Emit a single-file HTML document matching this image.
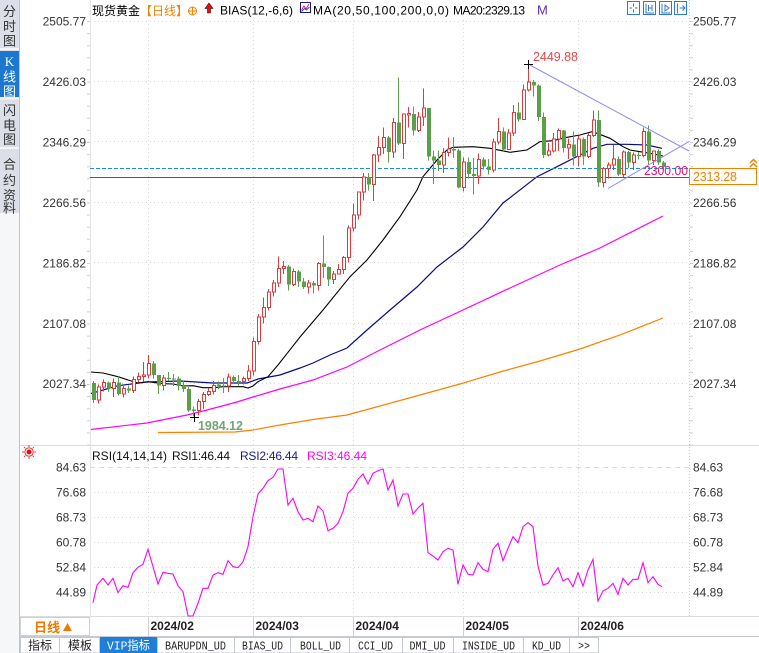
<!DOCTYPE html>
<html><head><meta charset="utf-8"><style>
html,body{margin:0;padding:0;background:#fff;}
svg{display:block;}
</style></head><body>
<svg width="759" height="653" viewBox="0 0 759 653" xmlns="http://www.w3.org/2000/svg" font-family="'Liberation Sans','Noto Sans CJK SC',sans-serif">
<defs>
<clipPath id="cm"><rect x="90" y="0" width="599" height="445"/></clipPath>
<clipPath id="cr"><rect x="90" y="446" width="599" height="171"/></clipPath>
</defs>
<rect width="759" height="653" fill="#fff"/>

<!-- sidebar -->
<rect x="0" y="0" width="19" height="213" fill="#dcdfe7"/>
<rect x="0" y="51" width="19" height="46" fill="#1c78cf"/>
<line x1="0" y1="49" x2="19" y2="49" stroke="#f4f5f8" stroke-width="2"/>
<line x1="0" y1="98.5" x2="19" y2="98.5" stroke="#f4f5f8" stroke-width="2"/>
<line x1="0" y1="148" x2="19" y2="148" stroke="#f4f5f8" stroke-width="2"/>
<rect x="0" y="213" width="19" height="440" fill="#f6f7f9"/>
<g font-size="13" text-anchor="middle" fill="#333" font-family="'Noto Sans CJK SC','WenQuanYi Zen Hei',sans-serif">
<text x="9.5" y="16">分</text><text x="9.5" y="31">时</text><text x="9.5" y="45.5">图</text>
<text x="9.5" y="66" fill="#fff" font-family="'Liberation Serif',serif">K</text><text x="9.5" y="81.5" fill="#fff">线</text><text x="9.5" y="96" fill="#fff">图</text>
<text x="9.5" y="115">闪</text><text x="9.5" y="130">电</text><text x="9.5" y="144">图</text>
<text x="9.5" y="169">合</text><text x="9.5" y="185">约</text><text x="9.5" y="200">资</text><text x="9.5" y="212.5">料</text>
</g>
<line x1="19.5" y1="0" x2="19.5" y2="653" stroke="#bfc3cc"/>

<!-- grid main -->
<g stroke="#d9d9d9" stroke-dasharray="1 3">
<line x1="90" y1="21.5" x2="689" y2="21.5"/><line x1="90" y1="81.5" x2="689" y2="81.5"/>
<line x1="90" y1="141.5" x2="689" y2="141.5"/><line x1="90" y1="202.5" x2="689" y2="202.5"/>
<line x1="90" y1="262.5" x2="689" y2="262.5"/><line x1="90" y1="323.5" x2="689" y2="323.5"/>
<line x1="90" y1="383.5" x2="689" y2="383.5"/>
<line x1="148.5" y1="20" x2="148.5" y2="445"/><line x1="253.5" y1="20" x2="253.5" y2="445"/>
<line x1="353.5" y1="20" x2="353.5" y2="445"/><line x1="463.5" y1="20" x2="463.5" y2="445"/>
<line x1="578.5" y1="20" x2="578.5" y2="445"/>
<line x1="148.5" y1="448" x2="148.5" y2="617"/><line x1="253.5" y1="448" x2="253.5" y2="617"/>
<line x1="353.5" y1="448" x2="353.5" y2="617"/><line x1="463.5" y1="448" x2="463.5" y2="617"/>
<line x1="578.5" y1="448" x2="578.5" y2="617"/>
<line x1="90" y1="492.5" x2="689" y2="492.5"/><line x1="90" y1="517.5" x2="689" y2="517.5"/>
<line x1="90" y1="542.5" x2="689" y2="542.5"/><line x1="90" y1="567.5" x2="689" y2="567.5"/>
<line x1="90" y1="592.5" x2="689" y2="592.5"/>
</g>
<line x1="90" y1="467.5" x2="689" y2="467.5" stroke="#dcdcdc" stroke-dasharray="5 4"/>

<!-- axes lines -->
<line x1="90.5" y1="0" x2="90.5" y2="617" stroke="#e2e4e8"/>
<line x1="88.5" y1="21" x2="88.5" y2="445" stroke="#d0d0d0" stroke-width="3" stroke-dasharray="1 11.1"/>
<line x1="689.5" y1="0" x2="689.5" y2="617" stroke="#cfcfcf" stroke-dasharray="1 2"/>
<line x1="691.5" y1="21" x2="691.5" y2="445" stroke="#d0d0d0" stroke-width="3" stroke-dasharray="1 11.1"/>
<line x1="20" y1="445.5" x2="759" y2="445.5" stroke="#dcdcdc"/>
<line x1="20" y1="616.5" x2="759" y2="616.5" stroke="#dcdcdc"/>
<line x1="20" y1="636.5" x2="759" y2="636.5" stroke="#c6cad2"/>

<!-- price axis labels -->
<g font-size="12" fill="#333">
<g text-anchor="end">
<text x="86" y="25.5">2505.77</text><text x="86" y="86">2426.03</text><text x="86" y="146.5">2346.29</text>
<text x="86" y="207">2266.56</text><text x="86" y="267.5">2186.82</text><text x="86" y="328">2107.08</text>
<text x="86" y="388">2027.34</text>
<text x="86" y="471.7">84.63</text><text x="86" y="496.7">76.68</text><text x="86" y="521.7">68.73</text>
<text x="86" y="546.7">60.78</text><text x="86" y="571.7">52.84</text><text x="86" y="596.7">44.89</text>
</g>
<text x="693" y="25.5">2505.77</text><text x="693" y="86">2426.03</text><text x="693" y="146.5">2346.29</text>
<text x="693" y="207">2266.56</text><text x="693" y="267.5">2186.82</text><text x="693" y="328">2107.08</text>
<text x="693" y="388">2027.34</text>
<text x="693" y="471.7">84.63</text><text x="693" y="496.7">76.68</text><text x="693" y="521.7">68.73</text>
<text x="693" y="546.7">60.78</text><text x="693" y="571.7">52.84</text><text x="693" y="596.7">44.89</text>
</g>

<!-- main chart -->
<g clip-path="url(#cm)">
<!-- MA lines -->
<polyline fill="none" stroke="#ff8000" stroke-width="1.2" points="158,432.5 235,432 253,430 280,425 313,419.5 347,415 380,406 420,395 460,384 500,372 540,361 580,349 620,335 663,318"/>
<polyline fill="none" stroke="#ff00ff" stroke-width="1.2" points="91,429.5 147,423 187,415 207,410 237,402 253,397 280,389 313,380 347,367 380,350 420,330 463,310 510,288 560,265 600,248 663,216"/>
<polyline fill="none" stroke="#0a0a8a" stroke-width="1.2" points="91,393.5 103,390 118,385.7 147,382 180,381 213,383 247,383 258,379 280,375 300,368 313,363 330,355 347,348 367,330 390,310 417,287 437,267 463,247 483,227 503,203 507,200 537,176.7 557,166.7 580,155 593,148.3 607,144.3 627,144.3 647,145 662,148.3"/>
<polyline fill="none" stroke="#000" stroke-width="1.1" points="91,372 103,373 118,376.7 128,380 138,383 148,381.7 163,383.7 173,384 183,386 193,385.7 203,387.7 213,387.7 223,386.7 243,386.7 248,388 253,386 258,381.7 268,376.7 278,365 288,352.3 300,337 323,310 350,276.7 367,260 383,240 400,216.7 417,190 423,176.7 437,160 447,150 453,147.3 473,146.7 490,148.3 507,151.7 510,152.3 527,150 540,141.7 553,140.7 567,137.3 580,135 592,131.7 597,133.3 610,138.3 623,146.7 630,150 640,151.7 650,153.3 663,156"/>

<!-- horizontal reference lines -->
<line x1="90" y1="168.5" x2="689" y2="168.5" stroke="#1e88e5" stroke-dasharray="4 2"/>
<line x1="90" y1="177.5" x2="689" y2="177.5" stroke="#d4175e"/>

<!-- candles -->
<g transform="matrix(1 0 0 -0.758 0 1920.37)" shape-rendering="crispEdges">
<path vector-effect="non-scaling-stroke" stroke="#e03a3a" stroke-width="1" fill="none" d="M98.5 2001V2026M103.5 2017V2033M113.5 2010V2034M123.5 2009V2024M133.5 2015V2037M138.5 2029V2042M143.5 2030V2056M148.5 2034V2065M163.5 2018V2039M198.5 1985V2007M203.5 1994V2016M208.5 2011V2021M213.5 2013V2031M228.5 2016V2041M243.5 2026V2037M248.5 2031V2052M253.5 2038V2088M258.5 2079V2119M263.5 2107V2141M268.5 2124V2152M273.5 2142V2164M278.5 2155V2195M283.5 2172V2189M293.5 2156V2179M308.5 2146V2164M318.5 2150V2188M333.5 2159V2176M338.5 2172V2185M343.5 2172V2196M348.5 2187V2236M353.5 2228V2265M358.5 2244V2280M363.5 2269V2305M373.5 2268V2330M378.5 2320V2354M383.5 2330V2365M393.5 2325V2378M403.5 2324V2384M408.5 2365V2392M418.5 2359V2386M423.5 2367V2417M443.5 2305V2338M448.5 2327V2352M463.5 2281V2326M478.5 2291V2331M493.5 2306V2351M498.5 2343V2378M508.5 2336V2363M513.5 2354V2395M523.5 2376V2422M528.5 2413V2449.88M548.5 2327V2345M553.5 2332V2358M558.5 2334V2364M568.5 2324V2351M578.5 2314V2354M588.5 2325V2358M593.5 2353V2388M603.5 2286V2313M608.5 2298V2319M613.5 2309V2342M623.5 2299V2335M633.5 2309V2332M643.5 2326V2365M653.5 2316V2335"/>
<path vector-effect="non-scaling-stroke" stroke="#5b9f4a" stroke-width="1" fill="none" d="M93.5 2002V2031M108.5 2016V2030M118.5 2012V2037M128.5 2015V2025M153.5 2034V2057M158.5 2014V2039M168.5 2031V2043M173.5 2024V2040M178.5 2018V2037M183.5 2016V2031M188.5 1990V2023M193.5 1984.12V1997M218.5 2020V2030M223.5 2015V2035M233.5 2027V2038M238.5 2025V2039M288.5 2150V2184M298.5 2155V2177M303.5 2152V2167M313.5 2146V2163M323.5 2167V2223M328.5 2156V2182M368.5 2282V2305M388.5 2319V2354M398.5 2342V2431M413.5 2355V2393M428.5 2322V2391M433.5 2291V2335M438.5 2308V2335M453.5 2325V2353M458.5 2285V2337M468.5 2298V2326M473.5 2277V2325M483.5 2310V2326M488.5 2303V2324M503.5 2333V2365M518.5 2373V2398M533.5 2406V2428M538.5 2374V2422M543.5 2325V2385M563.5 2332V2362M573.5 2315V2360M583.5 2316V2352M598.5 2287V2388M618.5 2301V2327M628.5 2312V2334M638.5 2323V2333M648.5 2316V2368M658.5 2316V2336M663.5 2309V2321"/>
<path vector-effect="non-scaling-stroke" stroke="#e03a3a" stroke-width="1" fill="#fff" d="M97.5 2006h3V2023h-3zM102.5 2023h3V2029h-3zM112.5 2021h3V2029h-3zM122.5 2014h3V2021h-3zM132.5 2018h3V2033h-3zM137.5 2033h3V2037h-3zM142.5 2037h3V2039h-3zM147.5 2039h3V2054h-3zM162.5 2025h3V2035h-3zM197.5 1992h3V2004h-3zM202.5 2004h3V2013h-3zM207.5 2013h3V2017h-3zM212.5 2017h3V2025h-3zM227.5 2024h3V2036h-3zM242.5 2030h3V2034h-3zM247.5 2034h3V2044h-3zM252.5 2044h3V2083h-3zM257.5 2083h3V2115h-3zM262.5 2115h3V2128h-3zM267.5 2128h3V2148h-3zM272.5 2148h3V2160h-3zM277.5 2160h3V2179h-3zM282.5 2179h3V2182h-3zM292.5 2158h3V2175h-3zM307.5 2155h3V2160h-3zM317.5 2157h3V2186h-3zM332.5 2165h3V2172h-3zM337.5 2172h3V2178h-3zM342.5 2178h3V2194h-3zM347.5 2194h3V2233h-3zM352.5 2233h3V2250h-3zM357.5 2250h3V2280h-3zM362.5 2280h3V2300h-3zM372.5 2290h3V2329h-3zM377.5 2329h3V2339h-3zM382.5 2339h3V2352h-3zM392.5 2333h3V2372h-3zM402.5 2344h3V2383h-3zM407.5 2382h3V2384h-3zM417.5 2361h3V2379h-3zM422.5 2379h3V2391h-3zM442.5 2316h3V2332h-3zM447.5 2332h3V2337h-3zM462.5 2286h3V2320h-3zM477.5 2301h3V2323h-3zM492.5 2309h3V2346h-3zM497.5 2346h3V2360h-3zM507.5 2336h3V2358h-3zM512.5 2358h3V2385h-3zM522.5 2376h3V2415h-3zM527.5 2415h3V2425h-3zM547.5 2329h3V2334h-3zM552.5 2334h3V2350h-3zM557.5 2350h3V2361h-3zM567.5 2338h3V2343h-3zM577.5 2327h3V2350h-3zM587.5 2327h3V2355h-3zM592.5 2355h3V2375h-3zM602.5 2293h3V2311h-3zM607.5 2311h3V2316h-3zM612.5 2316h3V2324h-3zM622.5 2303h3V2333h-3zM632.5 2319h3V2329h-3zM642.5 2328h3V2360h-3zM652.5 2322h3V2334h-3z"/>
<path fill="#5b9f4a" d="M92 2028h4V2006h-4zM107 2029h4V2021h-4zM117 2029h4V2014h-4zM127 2021h4V2018h-4zM152 2054h4V2039h-4zM157 2039h4V2025h-4zM167 2035h4V2033.7h-4zM172 2034h4V2032.7h-4zM177 2034h4V2024h-4zM182 2024h4V2020h-4zM187 2020h4V1992h-4zM192 1993h4V1991.5h-4zM217 2026h4V2024.5h-4zM222 2025h4V2023.7h-4zM232 2036h4V2031h-4zM237 2031h4V2029.7h-4zM287 2182h4V2158h-4zM297 2175h4V2162h-4zM302 2162h4V2155h-4zM312 2160h4V2157h-4zM322 2186h4V2181h-4zM327 2181h4V2165h-4zM367 2300h4V2290h-4zM387 2352h4V2333h-4zM397 2372h4V2344h-4zM412 2383h4V2361h-4zM427 2391h4V2327h-4zM432 2327h4V2322h-4zM437 2322h4V2316h-4zM452 2337h4V2335h-4zM457 2335h4V2286h-4zM467 2320h4V2304h-4zM472 2304h4V2301h-4zM482 2323h4V2314h-4zM487 2314h4V2309h-4zM502 2360h4V2336h-4zM517 2385h4V2376h-4zM532 2425h4V2421h-4zM537 2421h4V2379h-4zM542 2379h4V2329h-4zM562 2361h4V2338h-4zM572 2343h4V2327h-4zM582 2350h4V2327h-4zM597 2375h4V2293h-4zM617 2324h4V2303h-4zM627 2333h4V2319h-4zM637 2329h4V2327.7h-4zM647 2360h4V2322h-4zM657 2334h4V2319h-4zM662 2319h4V2313.28h-4z"/>
</g>

<!-- trend lines -->
<line x1="528" y1="64" x2="689" y2="151" stroke="#8c8cf5"/>
<line x1="608" y1="188.5" x2="689" y2="141.5" stroke="#8c8cf5"/>
<!-- markers -->
<path d="M524 64.5h9M528.5 60v9M190 417.5h9M194.5 413v9" stroke="#000" fill="none"/>
<text x="533" y="61" font-size="12.5" fill="#e04848" textLength="45">2449.88</text>
<text x="198" y="430" font-size="12.5" font-weight="bold" fill="#72a47a" textLength="45">1984.12</text>
<text x="644" y="175" font-size="13" fill="#e8107a" textLength="44" lengthAdjust="spacingAndGlyphs">2300.00</text>
</g>

<!-- current price tag -->
<rect x="689.5" y="168.5" width="67" height="16" fill="#fff" stroke="#f08000"/>
<text x="693" y="181" font-size="12.5" fill="#f08000" textLength="44">2313.28</text>
<path d="M750 163l3.5-3.5 3.5 3.5M750 167l3.5-3.5 3.5 3.5" stroke="#f08000" stroke-width="1.5" fill="none"/>

<!-- header -->
<g font-size="12" fill="#000">
<text x="92" y="15" font-family="'Noto Sans CJK SC',sans-serif">现货黄金</text>
<text x="140" y="15" fill="#f08300" font-family="'Noto Sans CJK SC',sans-serif">【日线】</text>
<text x="220" y="14.5" textLength="73">BIAS(12,-6,6)</text>
<text x="313" y="14.5" textLength="136">MA(20,50,100,200,0,0)</text>
<text x="453" y="14.5" textLength="72">MA20:2329.13</text>
<text x="537" y="14.5" fill="#6030b0" font-size="13">M</text>
</g>
<circle cx="192.5" cy="11" r="4" fill="none" stroke="#f08300"/>
<path d="M188.5 11h8M192.5 7v8" stroke="#f08300"/>
<path d="M205 8.5l4-5.5 4 5.5h-2.5v4.5h-3v-4.5z" fill="#e01010" stroke="#400" stroke-width="0.6"/>
<rect x="300.5" y="2.5" width="10" height="10" fill="#fff" stroke="#1a1a8c"/>
<path d="M301.5 10l2.5-4 2 3 3-5" stroke="#e02020" fill="none" stroke-width="0.9"/>
<path d="M301.5 11.5l3-3 2 1.5 3-3" stroke="#2040d0" fill="none" stroke-width="0.9"/>

<!-- top right icons -->
<g fill="#fff" stroke="#2f7ad6">
<rect x="627.5" y="1.5" width="12" height="13"/><rect x="643.5" y="1.5" width="12" height="13"/>
<rect x="659.5" y="1.5" width="12" height="13"/><rect x="674.5" y="1.5" width="12" height="13"/>
</g>
<g stroke="#2f7ad6" fill="none">
<path d="M633.5 3.5v3M633.5 9.5v3M629.5 8h2.5M635 8h2.5"/>
<path d="M646 4v9h8M648.5 5v6M652 5v6M648.5 8h3.5"/>
<path d="M662 4v9h8M665 5v6l4-3z"/>
<path d="M677.5 3.5v10M679.5 8h5M682.5 5.5l2.5 2.5-2.5 2.5"/>
</g>

<!-- RSI panel -->
<circle cx="29" cy="452" r="2.5" fill="#e01010"/>
<circle cx="29" cy="452" r="4.2" fill="none" stroke="#e01010" stroke-width="0.8"/>
<path d="M29 445v2M29 457v2M22 452h2M34 452h2M24 447l1.4 1.4M32.6 455.6l1.4 1.4M24 457l1.4-1.4M32.6 448.4l1.4-1.4" stroke="#e01010" stroke-width="0.8"/>
<g font-size="12">
<text x="92" y="460" fill="#111" textLength="75">RSI(14,14,14)</text>
<text x="172" y="460" fill="#111" textLength="58">RSI1:46.44</text>
<text x="240" y="460" fill="#1a1a8c" textLength="58">RSI2:46.44</text>
<text x="307" y="460" fill="#ff00ff" textLength="60">RSI3:46.44</text>
</g>
<g clip-path="url(#cr)">
<polyline fill="none" stroke="#ff00ff" stroke-width="1.1" points="93,602.7 97,585 103,578.3 108,585 113,578.3 118,592.7 123,585.7 128,587.3 133,572.7 138,567.3 143,564.3 148,549.3 153,566.7 158,584 163,572.3 168,573.3 173,574 178,585.7 183,591.7 188,616 193,616 198,603.3 203,588.3 208,588.3 213,575 218,572.7 223,574.3 228,560.7 233,566.7 238,567.7 243,561.7 248,546.7 253,516.7 258,494 263,488.3 268,480.7 273,477.3 278,469 283,469 288,505 293,498.3 298,511.7 303,520 308,518.3 313,521.7 318,506 323,511 328,530.7 333,528.3 338,523.3 343,511.7 348,493.3 353,488.3 358,479.3 363,474 368,484 373,473.3 378,470.7 383,469 388,490 393,480 398,506 403,494 408,494 413,514 418,508 423,503.3 428,552.7 433,556 438,560 443,551.7 448,548.3 453,550 458,584.3 463,565 468,574.3 473,575 478,562.7 483,569.3 488,571.7 493,549.3 498,543.3 503,560.7 508,548.3 513,536.7 518,542.7 523,526.7 528,522.7 533,526.7 538,566 543,585 548,583.3 553,575 558,567.7 563,581 568,578.3 573,586.7 578,572.7 583,586 588,570 593,559.3 598,601 603,591 608,588.3 613,583.3 618,594.3 623,578.3 628,585 633,579.3 638,579.3 643,562.7 648,582.7 653,576.7 658,584.3 662,586.7"/>
</g>

<!-- x axis row -->
<rect x="20.5" y="617.5" width="69" height="18" fill="#fff" stroke="#d0d0d0"/>
<text x="34" y="632" font-size="13" font-weight="bold" fill="#f07800" font-family="'Noto Sans CJK SC',sans-serif">日线</text>
<path d="M63 631l4.5-8 4.5 8z" fill="#f07800"/>
<g stroke="#d0d0d0">
<line x1="148.5" y1="617" x2="148.5" y2="636"/><line x1="253.5" y1="617" x2="253.5" y2="636"/>
<line x1="353.5" y1="617" x2="353.5" y2="636"/><line x1="463.5" y1="617" x2="463.5" y2="636"/>
<line x1="578.5" y1="617" x2="578.5" y2="636"/>
</g>
<g font-size="12" font-weight="bold" fill="#222">
<text x="150.5" y="630">2024/02</text><text x="255.5" y="630">2024/03</text>
<text x="355.5" y="630">2024/04</text><text x="465.5" y="630">2024/05</text>
<text x="580.5" y="630">2024/06</text>
</g>

<!-- tabs row -->
<g fill="#fff" stroke="#c5c9d0">
<rect x="20.5" y="637.5" width="39" height="15.5"/><rect x="59.5" y="637.5" width="40" height="15.5"/>
<rect x="157.5" y="637.5" width="77" height="15.5"/><rect x="234.5" y="637.5" width="56" height="15.5"/>
<rect x="290.5" y="637.5" width="59" height="15.5"/><rect x="349.5" y="637.5" width="53" height="15.5"/>
<rect x="402.5" y="637.5" width="51" height="15.5"/><rect x="453.5" y="637.5" width="70" height="15.5"/>
<rect x="523.5" y="637.5" width="46" height="15.5"/><rect x="569.5" y="637.5" width="29" height="15.5"/>
</g>
<rect x="100" y="637" width="57" height="16" fill="#1f7fd6"/>
<g font-size="12" text-anchor="middle" fill="#222" font-family="'Liberation Mono','Noto Sans CJK SC',monospace">
<text x="40" y="649.5" font-family="'Noto Sans CJK SC',sans-serif">指标</text>
<text x="80" y="649.5" font-family="'Noto Sans CJK SC',sans-serif">模板</text>
<text x="128.5" y="649.5" fill="#fff" textLength="43" lengthAdjust="spacingAndGlyphs">VIP指标</text>
<text x="195.5" y="649.5" textLength="61" lengthAdjust="spacingAndGlyphs">BARUPDN_UD</text>
<text x="262.5" y="649.5" textLength="41" lengthAdjust="spacingAndGlyphs">BIAS_UD</text>
<text x="320.5" y="649.5" textLength="41" lengthAdjust="spacingAndGlyphs">BOLL_UD</text>
<text x="375.5" y="649.5" textLength="35" lengthAdjust="spacingAndGlyphs">CCI_UD</text>
<text x="427.5" y="649.5" textLength="36" lengthAdjust="spacingAndGlyphs">DMI_UD</text>
<text x="488.5" y="649.5" textLength="53" lengthAdjust="spacingAndGlyphs">INSIDE_UD</text>
<text x="546.5" y="649.5" textLength="29" lengthAdjust="spacingAndGlyphs">KD_UD</text>
<text x="584" y="649.5" textLength="12" lengthAdjust="spacingAndGlyphs">&gt;&gt;</text>
</g>
</svg>
</body></html>
